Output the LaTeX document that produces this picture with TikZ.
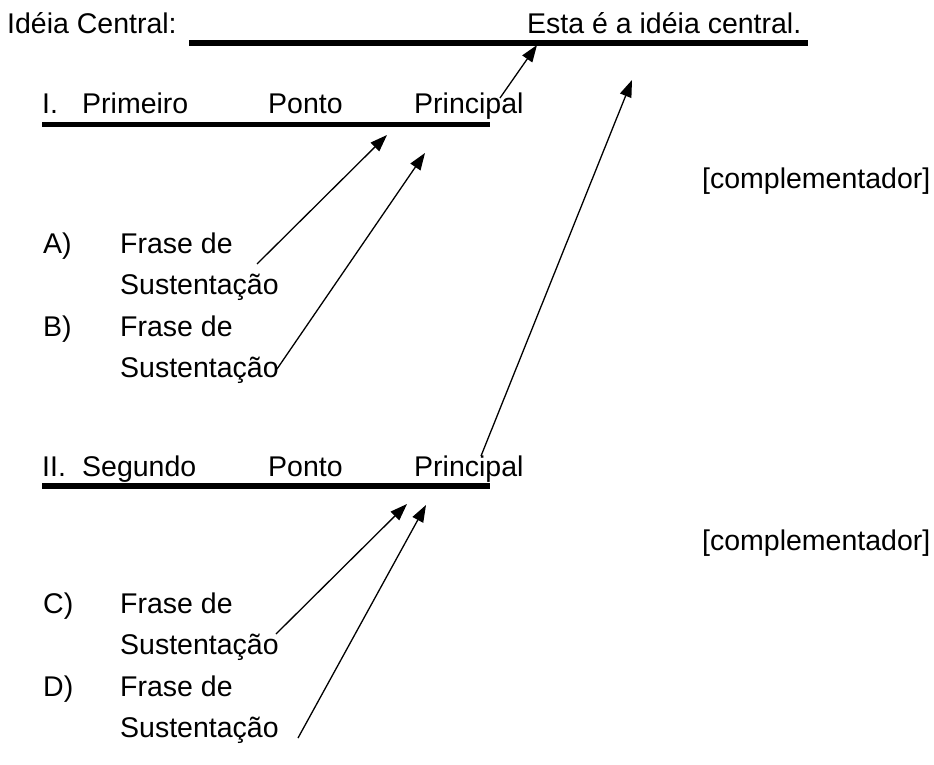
\documentclass[tikz,border=0pt]{standalone}
\usepackage{fontspec}
\setmainfont{Liberation Sans}
\usetikzlibrary{arrows.meta}
\begin{document}
\begin{tikzpicture}[x=1pt,y=-1pt,
  txt/.style={anchor=base west,inner sep=0pt,font=\fontsize{28.5}{34}\selectfont},
  rule/.style={line width=5.5pt},
  conn/.style={line width=1.3pt,-{Triangle[length=17pt,width=12pt]}}]
\useasboundingbox (0,0) rectangle (934,765);
% header
\node[txt] (ic) at (7,34) {Idéia Central:};
\node[txt] (ec) at (527,34) {Esta é a idéia central.};
\coordinate (l0a) at (189,43); \coordinate (l0b) at (808,43);
\draw[rule] (l0a) -- (l0b);
% I
\node[txt] (p1a) at (42,114) {I.};
\node[txt] (p1b) at (82,114) {Primeiro};
\node[txt] (p1c) at (268,114) {Ponto};
\node[txt] (p1d) at (414,114) {Principal};
\coordinate (l1a) at (42,124.5); \coordinate (l1b) at (490,124.5);
\draw[rule] (l1a) -- (l1b);
\node[txt] (c1) at (702,188) {[complementador]};
\node[txt] (a1) at (43,253) {A)};
\node[txt] (a2) at (120,253) {Frase de};
\node[txt] (a3) at (120,294) {Sustentação};
\node[txt] (b1) at (43,336) {B)};
\node[txt] (b2) at (120,336) {Frase de};
\node[txt] (b3) at (120,377) {Sustentação};
% II
\node[txt] (p2a) at (42,476) {II.};
\node[txt] (p2b) at (82,476) {Segundo};
\node[txt] (p2c) at (268,476) {Ponto};
\node[txt] (p2d) at (414,476) {Principal};
\coordinate (l2a) at (42,486); \coordinate (l2b) at (490,486);
\draw[rule] (l2a) -- (l2b);
\node[txt] (c2) at (702,550) {[complementador]};
\node[txt] (cc1) at (43,613) {C)};
\node[txt] (cc2) at (120,613) {Frase de};
\node[txt] (cc3) at (120,654) {Sustentação};
\node[txt] (d1) at (43,696) {D)};
\node[txt] (d2) at (120,696) {Frase de};
\node[txt] (d3) at (120,737) {Sustentação};
% arrow ends
\coordinate (t1) at (500,98);  \coordinate (h1) at (537,45);
\coordinate (t2) at (481,456); \coordinate (h2) at (632,80);
\coordinate (t3) at (257,264); \coordinate (h3) at (387,135);
\coordinate (t4) at (277,369); \coordinate (h4) at (425,153);
\coordinate (t5) at (276,634); \coordinate (h5) at (407,504);
\coordinate (t6) at (298,738); \coordinate (h6) at (426,505);
\draw[conn] (t1) -- (h1);
\draw[conn] (t2) -- (h2);
\draw[conn] (t3) -- (h3);
\draw[conn] (t4) -- (h4);
\draw[conn] (t5) -- (h5);
\draw[conn] (t6) -- (h6);
\end{tikzpicture}
\end{document}
